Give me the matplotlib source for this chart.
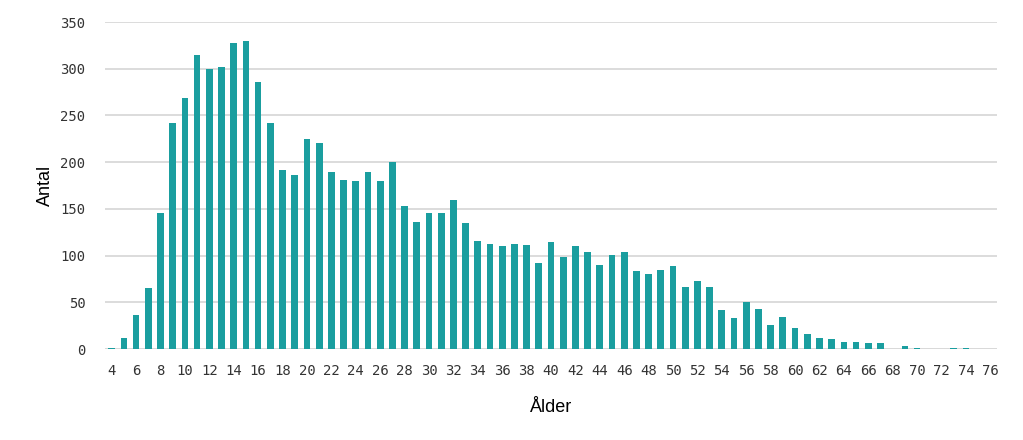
import matplotlib
matplotlib.use("Agg")
import matplotlib.pyplot as plt
import numpy as np

ages = list(range(4, 77))
counts = [1, 12, 36, 65, 146, 242, 269, 315, 300, 302, 327, 330, 286, 242, 192, 186,
          225, 220, 189, 181, 180, 189, 180, 200, 153, 136, 146, 146, 159, 135, 116, 112,
          110, 112, 111, 92, 114, 98, 110, 104, 90, 101, 104, 84, 80, 85, 89, 66,
          73, 66, 42, 33, 50, 43, 26, 34, 23, 16, 12, 11, 8, 7, 6, 6,
          0, 3, 1, 0, 0, 1, 1, 0, 0]
yticks = [0, 50, 100, 150, 200, 250, 300, 350]

fig = plt.figure(figsize=(10.23, 4.40), dpi=100)
ax = fig.add_axes([105/1023, 1 - 349/440, (997-105)/1023, (349-22)/440])

x = np.arange(len(ages))
ax.bar(x, counts, width=0.55, color="#1A9E9F", zorder=3)

ax.set_xlim(-0.55, len(ages) - 0.45)
ax.set_ylim(0, 350)
ax.set_yticks(yticks)
ax.set_xticks(x[::2])
ax.set_xticklabels([str(a) for a in ages[::2]], fontfamily="DejaVu Sans Mono", fontsize=10)
ax.set_yticklabels([str(v) for v in yticks], fontfamily="DejaVu Sans Mono", fontsize=10)
for lbl in ax.get_xticklabels() + ax.get_yticklabels():
    lbl.set_color("#333333")
ax.grid(axis="y", color="#D9D9D9", linewidth=1.3, zorder=0)
ax.tick_params(axis="both", length=0, pad=11)
ax.tick_params(axis="y", pad=14)
for s in ax.spines.values():
    s.set_visible(False)
ax.axhline(0, color="#D9D9D9", linewidth=1.3, zorder=2)

ax.set_xlabel("Ålder", fontfamily="Liberation Sans", fontsize=13, labelpad=15)
ax.set_ylabel("Antal", fontfamily="Liberation Sans", fontsize=13, labelpad=5)

fig.savefig("out.png", dpi=100)
